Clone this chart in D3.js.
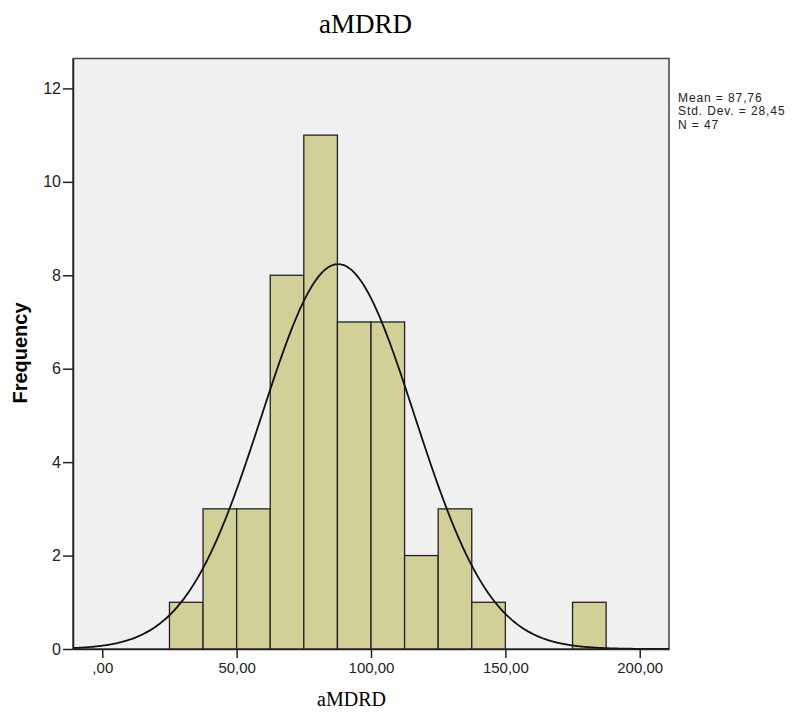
<!DOCTYPE html>
<html>
<head>
<meta charset="utf-8">
<script src="https://cdn.jsdelivr.net/npm/d3@7"></script>
<style>
  body { margin: 0; background: #fff; }
  .tick text { font-family: "Liberation Sans", Arial, sans-serif; font-size: 15px; fill: #222; }
  .yaxis .tick text { font-size: 16px; }
</style>
</head>
<body>
<div id="chart"></div>
<script>

// histogram bins (lower edge, upper edge) and counts
var binLow  = [25, 37.5, 50, 62.5, 75, 87.5, 100, 112.5, 125, 137.5, 150, 162.5, 175];
var binHigh = [37.5, 50, 62.5, 75, 87.5, 100, 112.5, 125, 137.5, 150, 162.5, 175, 187.5];
var counts  = [1, 3, 3, 8, 11, 7, 7, 2, 3, 1, 0, 0, 1];

var xTicks = [0, 50, 100, 150, 200];
var yTicks = [0, 2, 4, 6, 8, 10, 12];

var mean = 87.76, sd = 28.45, n = 47;
var statLines = ["Mean = 87,76", "Std. Dev. = 28,45", "N = 47"];

var W = 803, H = 713;
var margin = { top: 58.5, left: 73, right: 134, bottom: 64 };

var svg = d3.select('#chart')
  .append('svg')
    .attr('width', W)
    .attr('height', H);

var x = d3.scaleLinear()
  .domain([-10.9, 210.9])
  .range([margin.left, W - margin.right]);

var y = d3.scaleLinear()
  .domain([0, 12.64])
  .range([H - margin.bottom, margin.top]);

// plot background
svg.append('rect')
  .attr('x', margin.left)
  .attr('y', margin.top)
  .attr('width', W - margin.right - margin.left)
  .attr('height', H - margin.bottom - margin.top)
  .attr('fill', '#f0f0f0')
  .attr('stroke', '#444')
  .attr('stroke-width', 1.5);

var bins = counts.map(function(c, i) { return { lo: binLow[i], hi: binHigh[i], count: c }; })
  .filter(function(d) { return d.count > 0; });

svg.selectAll('rect.bar')
  .data(bins)
  .enter().append('rect')
    .attr('class', 'bar')
    .attr('x', function(d) { return x(d.lo); })
    .attr('width', function(d) { return x(d.hi) - x(d.lo); })
    .attr('y', function(d) { return y(d.count); })
    .attr('height', function(d) { return y(0) - y(d.count); })
    .attr('fill', '#d3cf99')
    .attr('stroke', '#222')
    .attr('stroke-width', 1.3);

// fitted normal curve, scaled to counts (bin width 12.5)
var bw = binHigh[0] - binLow[0];
var dom = x.domain();
var pts = d3.range(dom[0], dom[1], 0.5).concat([dom[1]]).map(function(v) {
  var z = (v - mean) / sd;
  return [v, n * bw * Math.exp(-0.5 * z * z) / (sd * Math.sqrt(2 * Math.PI))];
});

svg.append('path')
  .datum(pts)
  .attr('fill', 'none')
  .attr('stroke', '#111')
  .attr('stroke-width', 1.8)
  .attr('d', d3.line()
    .x(function(d) { return x(d[0]); })
    .y(function(d) { return y(d[1]); })
    .curve(d3.curveBasis));

// axes
var xAxis = d3.axisBottom(x)
  .tickValues(xTicks)
  .tickSizeInner(9)
  .tickSizeOuter(0)
  .tickPadding(4)
  .tickFormat(function(d) { return d === 0 ? ',00' : d + ',00'; });

var yAxis = d3.axisLeft(y)
  .tickValues(yTicks)
  .tickSizeInner(10)
  .tickSizeOuter(0)
  .tickPadding(2)
  .tickFormat(d3.format('d'));

var gx = svg.append('g')
  .attr('class', 'xaxis')
  .attr('transform', 'translate(0,' + y(0) + ')')
  .call(xAxis);
gx.select('.domain').attr('stroke', '#222').attr('stroke-width', 1.5);
gx.selectAll('.tick line').attr('stroke', '#222').attr('stroke-width', 1.5);

var gy = svg.append('g')
  .attr('class', 'yaxis')
  .attr('transform', 'translate(' + margin.left + ',0)')
  .call(yAxis);
gy.select('.domain').attr('stroke', '#222').attr('stroke-width', 1.5);
gy.selectAll('.tick line').attr('stroke', '#222').attr('stroke-width', 1.5);

// title
svg.append('text')
  .attr('x', 365.5)
  .attr('y', 33)
  .style('text-anchor', 'middle')
  .style('font-family', '"Liberation Serif", "Times New Roman", serif')
  .style('font-size', '27px')
  .text('aMDRD');

// x axis text
svg.append('text')
  .attr('x', 351.5)
  .attr('y', 706)
  .style('text-anchor', 'middle')
  .style('font-family', '"Liberation Serif", "Times New Roman", serif')
  .style('font-size', '20px')
  .text('aMDRD');

// y axis text
svg.append('text')
  .attr('transform', 'translate(27,353)rotate(-90)')
  .style('text-anchor', 'middle')
  .style('font-family', '"Liberation Sans", Arial, sans-serif')
  .style('font-weight', 'bold')
  .style('font-size', '20px')
  .text('Frequency');

// stats box
svg.selectAll('text.stat')
  .data(statLines)
  .enter().append('text')
    .attr('class', 'stat')
    .attr('x', 678)
    .attr('y', function(d, i) { return 101.5 + i * 13.5; })
    .style('font-family', '"Liberation Sans", Arial, sans-serif')
    .style('font-size', '12px')
    .style('letter-spacing', '0.9px')
    .style('fill', '#222')
    .text(function(d) { return d; });

</script>
</body>
</html>
